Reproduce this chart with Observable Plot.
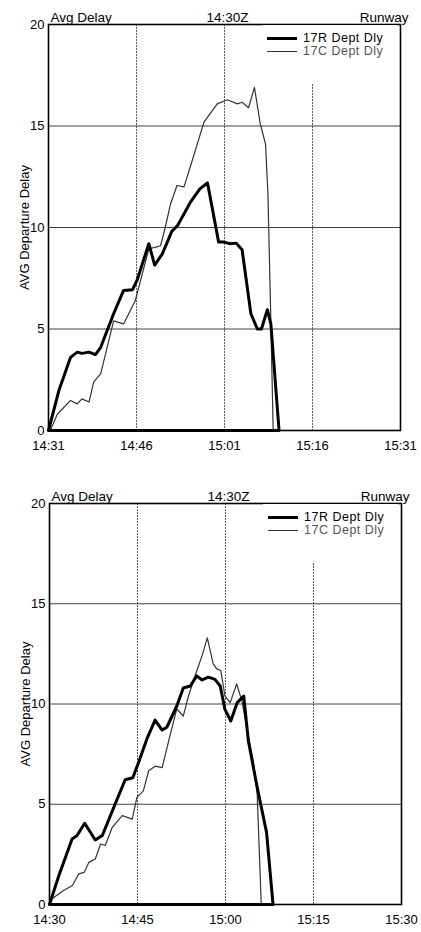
<!DOCTYPE html>
<html><head><meta charset="utf-8">
<script src="https://cdn.jsdelivr.net/npm/d3@7"></script>
<script src="https://cdn.jsdelivr.net/npm/@observablehq/plot@0.6"></script>
<style>
body{margin:0;background:#fff;font-family:"Liberation Sans",Arial,sans-serif;}
.chart{position:relative;width:421px;}
.chart svg{display:block;}
.legend{position:absolute;background:#fff;width:135px;height:59px;}
.legend .row{position:absolute;left:5px;height:12px;line-height:12px;display:flex;align-items:center;font-size:12.5px;letter-spacing:0.5px;white-space:nowrap;}
.legend .sw{width:30px;margin-right:6px;}
</style></head><body>
<div id="c1" class="chart"></div>
<div id="c2" class="chart"></div>
<script>
// ---- data ----
const seriesNames = ["17R Dept Dly", "17C Dept Dly"];
const headerLabels = ["Avg Delay", "14:30Z", "Runway"];
const yLabel = "AVG Departure Delay";
const yTicks = [0, 5, 10, 15, 20];
const tickMinutes = [0, 15, 30, 45, 60];
const topTickLabels = ["14:31", "14:46", "15:01", "15:16", "15:31"];
const bottomTickLabels = ["14:30", "14:45", "15:00", "15:15", "15:30"];

// top chart: minutes after 14:31
const top17R_min = [0, 1.8, 3.75, 4.9, 5.7, 6.9, 8.0, 8.9, 11.1, 12.8, 14.3, 15.1, 17.1, 18.1, 19.4, 21.0, 22.0, 24.2, 25.8, 27.1, 29.0, 29.9, 31.0, 32.0, 33.0, 34.5, 35.6, 36.3, 37.3, 37.9, 39.3];
const top17R_val = [0, 2.0, 3.6, 3.86, 3.8, 3.86, 3.74, 4.1, 5.75, 6.9, 6.93, 7.4, 9.2, 8.15, 8.7, 9.8, 10.1, 11.25, 11.9, 12.2, 9.28, 9.28, 9.2, 9.23, 8.9, 5.75, 5.0, 5.0, 5.95, 5.25, 0];
const top17C_min = [0.3, 1.5, 3.75, 4.9, 5.7, 6.9, 7.7, 8.9, 11.1, 12.8, 14.8, 17.1, 18.3, 19.1, 19.9, 20.8, 21.9, 23.1, 24.5, 26.5, 28.75, 30.5, 32.2, 33.0, 34.1, 35.1, 36.1, 37.0, 37.4, 37.8, 38.3];
const top17C_val = [0, 0.8, 1.48, 1.31, 1.56, 1.4, 2.38, 2.8, 5.4, 5.25, 6.4, 8.95, 9.03, 9.1, 10.0, 11.16, 12.07, 12.0, 13.3, 15.19, 16.09, 16.29, 16.09, 16.17, 15.9, 16.9, 15.1, 14.1, 11.66, 6.7, 0];

// bottom chart: minutes after 14:30
const bot17R_min = [0, 1.6, 3.85, 4.7, 6.0, 7.8, 9.0, 11.2, 12.9, 14.2, 15.2, 16.6, 18.0, 19.2, 20.0, 21.7, 22.8, 24.0, 25.1, 26.0, 27.1, 28.2, 29.1, 29.9, 30.9, 32.0, 33.1, 33.9, 35.3, 36.0, 37.0, 38.1];
const bot17R_val = [0, 1.45, 3.27, 3.44, 4.05, 3.22, 3.44, 5.02, 6.22, 6.32, 7.1, 8.26, 9.2, 8.7, 8.84, 9.9, 10.8, 10.9, 11.4, 11.2, 11.34, 11.23, 10.9, 9.73, 9.15, 10.07, 10.4, 8.16, 6.0, 5.0, 3.6, 0];
const bot17C_min = [0, 2.4, 3.9, 5.0, 5.9, 6.7, 7.8, 8.7, 9.5, 10.7, 12.4, 14.1, 14.9, 16.0, 16.9, 18.0, 19.2, 20.6, 21.7, 22.8, 23.7, 24.8, 26.0, 26.9, 27.9, 28.5, 29.2, 29.9, 30.8, 31.9, 32.8, 33.6, 34.75, 35.4, 36.1];
const bot17C_val = [0.2, 0.7, 0.95, 1.53, 1.6, 2.1, 2.27, 3.02, 2.94, 3.85, 4.43, 4.26, 5.34, 5.67, 6.67, 6.9, 6.83, 8.5, 9.75, 9.4, 10.4, 11.4, 12.4, 13.3, 12.0, 11.75, 11.67, 10.4, 10.07, 11.0, 10.15, 8.84, 7.1, 5.5, 0];

// ---- drawing ----
const FONT = "'Liberation Sans', Arial, sans-serif";
const styles = [
  {stroke: "#000", strokeWidth: 3, text: "#000"},
  {stroke: "#333", strokeWidth: 1.2, text: "#555"}
];

function zip(mins, vals) { return mins.map((m, i) => ({m, v: vals[i]})); }

function makeChart(el, opt) {
  const series = [zip(opt.rMin, opt.rVal), zip(opt.cMin, opt.cVal)];
  const fmt = d => opt.labels[tickMinutes.indexOf(d)];
  const lineMarks = [];
  // draw thin first, thick on top
  [1, 0].forEach(k => {
    const s = styles[k], d = series[k];
    lineMarks.push(Plot.ruleY([0], {x1: d[0].m, x2: d[d.length - 1].m, stroke: s.stroke, strokeWidth: s.strokeWidth}));
    lineMarks.push(Plot.line(d, {x: "m", y: "v", stroke: s.stroke, strokeWidth: s.strokeWidth, strokeLinejoin: "round"}));
  });
  const svg = Plot.plot({
    width: 421, height: opt.height,
    marginLeft: opt.ml, marginRight: 421 - opt.mr, marginTop: opt.mt, marginBottom: opt.mb,
    x: {domain: [0, 60]},
    y: {domain: [0, 20]},
    style: {fontFamily: FONT, fontSize: "13px", color: "#000", background: "#fff", overflow: "visible"},
    marks: [
      Plot.gridY(yTicks.slice(1, -1), {stroke: "#222", strokeOpacity: 0.85, strokeWidth: 1}),
      Plot.gridX(tickMinutes.slice(1, -1), {stroke: "#333", strokeOpacity: 0.8, strokeWidth: 1, strokeDasharray: "2,1"}),
      Plot.axisX(tickMinutes, {tickSize: 0, tickPadding: 10, tickFormat: fmt, label: null, fontSize: 13}),
      Plot.axisY(yTicks, {tickSize: 0, tickPadding: 4, label: yLabel, labelAnchor: "center", labelArrow: "none", labelOffset: 29, fontSize: 13}),
      ...lineMarks,
      Plot.frame({stroke: "#000", strokeWidth: 1.6}),
      Plot.text([headerLabels[0]], {frameAnchor: "top-left", textAnchor: "start", lineAnchor: "bottom", dx: 2, dy: -3, fontSize: 13.5}),
      Plot.text([headerLabels[1]], {frameAnchor: "top", textAnchor: "middle", lineAnchor: "bottom", dx: 3, dy: -3, fontSize: 13.5}),
      Plot.text([headerLabels[2]], {frameAnchor: "top-right", textAnchor: "end", lineAnchor: "bottom", dx: 8, dy: -3, fontSize: 13.5})
    ]
  });
  el.appendChild(svg);
  // legend
  const lg = document.createElement("div");
  lg.className = "legend";
  lg.style.left = (opt.ml + 214) + "px";
  lg.style.top = (opt.mt + 1) + "px";
  seriesNames.forEach((name, k) => {
    const row = document.createElement("div");
    row.className = "row";
    row.style.top = (k === 0 ? 7 : 20) + "px";
    const sw = document.createElement("span");
    sw.className = "sw";
    sw.style.borderTop = styles[k].strokeWidth + "px solid " + styles[k].stroke;
    const tx = document.createElement("span");
    tx.textContent = name;
    tx.style.color = styles[k].text;
    row.appendChild(sw); row.appendChild(tx);
    lg.appendChild(row);
  });
  el.appendChild(lg);
}

makeChart(document.getElementById("c1"), {
  height: 479, ml: 48, mr: 400, mt: 24, mb: 49, labels: topTickLabels,
  rMin: top17R_min, rVal: top17R_val, cMin: top17C_min, cVal: top17C_val
});
makeChart(document.getElementById("c2"), {
  height: 453, ml: 49, mr: 401, mt: 24, mb: 28, labels: bottomTickLabels,
  rMin: bot17R_min, rVal: bot17R_val, cMin: bot17C_min, cVal: bot17C_val
});
</script>
</body></html>
